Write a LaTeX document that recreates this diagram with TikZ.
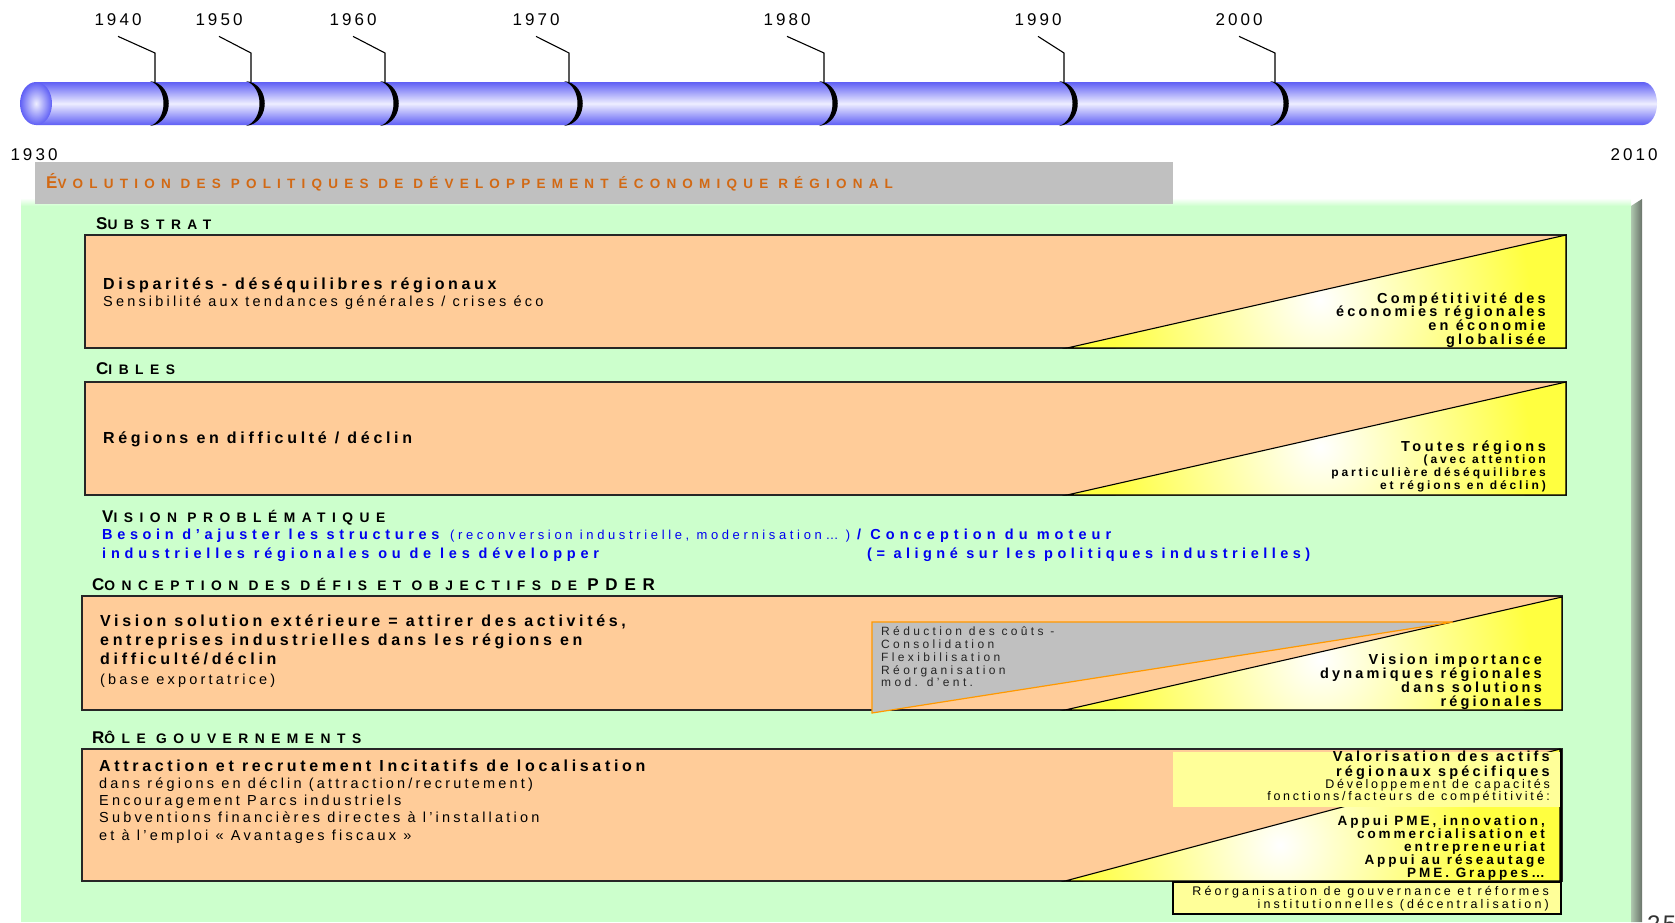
\documentclass[tikz,border=0pt]{standalone}
\usepackage{fontspec}
\setmainfont{Liberation Sans}[LetterSpace=25]

\definecolor{boxfill}{RGB}{255,204,153}
\definecolor{panelgreen}{RGB}{204,255,204}
\definecolor{bannergray}{RGB}{192,192,192}
\definecolor{bannerorange}{RGB}{210,105,20}
\definecolor{tubeblue}{RGB}{95,95,245}
\definecolor{tubewhite}{RGB}{238,238,255}
\definecolor{triyellow}{RGB}{255,255,64}
\definecolor{paleyellow}{RGB}{255,255,153}
\definecolor{visionblue}{RGB}{0,0,240}
\definecolor{grayedge}{RGB}{255,153,0}
\definecolor{shadelight}{RGB}{175,200,175}
\definecolor{shadedark}{RGB}{105,115,105}

\newcommand\fs[2]{\fontsize{#2}{#2}\selectfont\addfontfeatures{LetterSpace=#1}}
\newcommand\hcap[1]{{\fontsize{17}{17}\selectfont\addfontfeatures{LetterSpace=40}#1}}
\newcommand\yeartick[1]{\fill (#1-5,81) .. controls (#1+20,84) and (#1+20,123) .. (#1-5,126)
  .. controls (#1+13,120) and (#1+13,87) .. cycle;}

\tikzset{
  panel/.style={draw=black!85, line width=1.4pt, fill=boxfill},
  tri/.style={draw=black, line width=1.1pt},
  hdr/.style={anchor=base west, inner sep=0pt, font=\bfseries\fs{47}{13.8}},
  lft/.style={anchor=base west, inner sep=0pt},
  rgt/.style={anchor=base east, inner sep=0pt},
  bodyb/.style={lft, font=\bfseries\fs{23}{16}},
  bodyr/.style={lft, font=\fs{22}{14.5}},
  blueb/.style={lft, font=\bfseries\fs{32}{14.5}, text=visionblue},
  grytxt/.style={lft, font=\fs{28}{12}, text=black!85},
  trib/.style={rgt, font=\bfseries\fs{22}{14.5}},
  yearlbl/.style={anchor=base, inner sep=0pt, font=\fs{18}{17}},
  leader/.style={line width=1.1pt},
}

\begin{document}
\begin{tikzpicture}[x=1pt, y=-1pt]
\useasboundingbox (0,0) rectangle (1675,922);

%%% time line
\shade[top color=tubeblue, bottom color=tubeblue, middle color=tubewhite]
  (36,82) -- (1643,82) arc[start angle=-90, end angle=90, x radius=14, y radius=21.5] -- (36,125) -- cycle;
\shade[inner color=tubewhite, outer color=tubeblue] (36,103.5) ellipse [x radius=16, y radius=21.5];

\node[yearlbl] (y1930) at (34,160) {1930};
\node[yearlbl] (y2010) at (1634,160) {2010};

\node[yearlbl] (y1940) at (118,25) {1940};
\coordinate (k1940) at (155,82);
\draw[leader] (y1940.south) ++(0,11) -- (155,53) -- (k1940);
\yeartick{155}

\node[yearlbl] (y1950) at (219,25) {1950};
\coordinate (k1950) at (251,82);
\draw[leader] (y1950.south) ++(0,11) -- (251,53) -- (k1950);
\yeartick{251}

\node[yearlbl] (y1960) at (353,25) {1960};
\coordinate (k1960) at (385,82);
\draw[leader] (y1960.south) ++(0,11) -- (385,53) -- (k1960);
\yeartick{385}

\node[yearlbl] (y1970) at (536,25) {1970};
\coordinate (k1970) at (569,82);
\draw[leader] (y1970.south) ++(0,11) -- (569,53) -- (k1970);
\yeartick{569}

\node[yearlbl] (y1980) at (787,25) {1980};
\coordinate (k1980) at (824,82);
\draw[leader] (y1980.south) ++(0,11) -- (824,53) -- (k1980);
\yeartick{824}

\node[yearlbl] (y1990) at (1038,25) {1990};
\coordinate (k1990) at (1064,82);
\draw[leader] (y1990.south) ++(0,11) -- (1064,53) -- (k1990);
\yeartick{1064}

\node[yearlbl] (y2000) at (1239,25) {2000};
\coordinate (k2000) at (1275,82);
\draw[leader] (y2000.south) ++(0,11) -- (1275,53) -- (k2000);
\yeartick{1275}

%%% green panel
\fill[panelgreen] (21,205) rectangle (1631,922);
\shade[top color=white, bottom color=panelgreen] (21,198) rectangle (1631,206);
\shade[left color=shadelight, right color=shadedark] (1631,206) -- (1642,199) -- (1642,922) -- (1631,922) -- cycle;

%%% title banner
\fill[bannergray] (35,162) rectangle (1173,204);
\node[hdr, font=\bfseries\fs{46}{13.5}, text=bannerorange] (banner) at (46,188)
  {\hcap{É}VOLUTION DES POLITIQUES DE DÉVELOPPEMENT ÉCONOMIQUE RÉGIONAL};

%%% substrat
\node[hdr] (hsub) at (96,229) {\hcap{S}UBSTRAT};
\draw[panel] (85,235) rectangle (1566,348);
\begin{scope}
  \clip (1067,348) -- (1566,235) -- (1566,348) -- cycle;
  \fill[triyellow] (1067,348) -- (1566,235) -- (1566,348) -- cycle;
  \shade[inner color=white, outer color=triyellow] (1320,300) circle (210);
\end{scope}
\draw[tri] (1067,348) -- (1566,235) -- (1566,348) -- cycle;
\node[bodyb] (sub1) at (103,289) {Disparités - déséquilibres régionaux};
\node[bodyr] (sub2) at (103,306) {Sensibilité aux tendances générales / crises éco};
\node[trib] (subr1) at (1546,303) {Compétitivité des};
\node[trib] (subr2) at (1546,316) {économies régionales};
\node[trib] (subr3) at (1546,330) {en économie};
\node[trib] (subr4) at (1546,344) {globalisée};

%%% cibles
\node[hdr] (hcib) at (96,374) {\hcap{C}IBLES};
\draw[panel] (85,382) rectangle (1566,495);
\begin{scope}
  \clip (1067,495) -- (1566,382) -- (1566,495) -- cycle;
  \fill[triyellow] (1067,495) -- (1566,382) -- (1566,495) -- cycle;
  \shade[inner color=white, outer color=triyellow] (1320,447) circle (210);
\end{scope}
\draw[tri] (1067,495) -- (1566,382) -- (1566,495) -- cycle;
\node[bodyb] (cib1) at (103,443) {Régions en difficulté / déclin};
\node[rgt, font=\bfseries\fs{24}{14.5}] (cibr1) at (1546,451) {Toutes régions};
\node[rgt, font=\bfseries\fs{24}{12}] (cibr2) at (1546,463) {(avec attention};
\node[rgt, font=\bfseries\fs{24}{12}] (cibr3) at (1546,476) {particulière déséquilibres};
\node[rgt, font=\bfseries\fs{24}{12}] (cibr4) at (1546,489) {et régions en déclin)};

%%% vision problematique
\node[hdr] (hvis) at (102,522) {\hcap{V}ISION PROBLÉMATIQUE};
\node[blueb] (vis1) at (102,539) {Besoin d’ajuster les structures};
\node[lft, font=\fs{28}{13}, text=visionblue] (vis2) at (450,539) {(reconversion industrielle, modernisation… )};
\node[blueb, font=\bfseries\fs{35}{14.5}] (vis3) at (857,539) {/ Conception du moteur};
\node[blueb, font=\bfseries\fs{33}{14.5}] (vis4) at (102,558) {industrielles régionales ou de les développer};
\node[blueb, font=\bfseries\fs{31}{14.5}] (vis5) at (867,558) {(= aligné sur les politiques industrielles)};

%%% conception
\node[hdr] (hcon) at (92,590) {\hcap{C}ONCEPTION DES DÉFIS ET OBJECTIFS DE \hcap{PDER}};
\draw[panel] (82,596) rectangle (1562,710);
\begin{scope}
  \clip (1065,710) -- (1562,597) -- (1562,710) -- cycle;
  \fill[triyellow] (1065,710) -- (1562,597) -- (1562,710) -- cycle;
  \shade[inner color=white, outer color=triyellow] (1320,660) circle (210);
\end{scope}
\draw[tri] (1065,710) -- (1562,597) -- (1562,710) -- cycle;
\filldraw[fill=bannergray, draw=grayedge, line width=1.2pt] (872,622) -- (1453,622) -- (872,713) -- cycle;
\node[bodyb] (con1) at (100,626) {Vision solution extérieure = attirer des activités,};
\node[bodyb] (con2) at (100,645) {entreprises industrielles dans les régions en};
\node[bodyb] (con3) at (100,664) {difficulté/déclin};
\node[bodyr] (con4) at (100,684) {(base exportatrice)};
\node[grytxt] (gry1) at (881,635) {Réduction des coûts -};
\node[grytxt] (gry2) at (881,648) {Consolidation};
\node[grytxt] (gry3) at (881,661) {Flexibilisation};
\node[grytxt] (gry4) at (881,674) {Réorganisation};
\node[grytxt] (gry5) at (881,686) {mod. d'ent.};
\node[trib] (conr1) at (1542,664) {Vision importance};
\node[trib] (conr2) at (1542,678) {dynamiques régionales};
\node[trib] (conr3) at (1542,692) {dans solutions};
\node[trib] (conr4) at (1542,706) {régionales};

%%% role gouvernements
\node[hdr] (hrol) at (92,743) {\hcap{R}ÔLE GOUVERNEMENTS};
\draw[panel] (82,749) rectangle (1562,881);
\begin{scope}
  \clip (1065,881) -- (1560,749) -- (1560,881) -- cycle;
  \fill[triyellow] (1065,881) -- (1560,749) -- (1560,881) -- cycle;
  \shade[inner color=white, outer color=triyellow] (1280,845) circle (200);
\end{scope}
\draw[tri] (1065,881) -- (1560,749) -- (1560,881) -- cycle;
\fill[paleyellow] (1173,752) rectangle (1560,807);
\draw[black, line width=1.4pt] (1561,749) -- (1561,881);
\filldraw[fill=paleyellow, draw=black, line width=1.3pt] (1173,882) rectangle (1561,914);
\node[bodyb] (rol1) at (99,771) {Attraction et recrutement Incitatifs de localisation};
\node[bodyr] (rol2) at (99,788) {dans régions en déclin (attraction/recrutement)};
\node[bodyr] (rol3) at (99,805) {Encouragement Parcs industriels};
\node[bodyr] (rol4) at (99,822) {Subventions financières directes à l’installation};
\node[bodyr] (rol5) at (99,840) {et à l’emploi « Avantages fiscaux »};
\node[trib] (rolv1) at (1550,761) {Valorisation des actifs};
\node[trib] (rolv2) at (1550,776) {régionaux spécifiques};
\node[rgt, font=\fs{22}{12.5}] (rolv3) at (1550,788) {Développement de capacités};
\node[rgt, font=\fs{22}{12.5}] (rolv4) at (1550,800) {fonctions/facteurs de compétitivité:};
\node[rgt, font=\bfseries\fs{22}{13.5}] (rolt1) at (1545,825) {Appui PME, innovation,};
\node[rgt, font=\bfseries\fs{22}{13.5}] (rolt2) at (1545,838) {commercialisation et};
\node[rgt, font=\bfseries\fs{22}{13.5}] (rolt3) at (1545,851) {entrepreneuriat};
\node[rgt, font=\bfseries\fs{22}{13.5}] (rolt4) at (1545,864) {Appui au réseautage};
\node[rgt, font=\bfseries\fs{22}{13.5}] (rolt5) at (1545,877) {PME. Grappes…};
\node[rgt, font=\fs{25}{12.5}] (rolb1) at (1549,895) {Réorganisation de gouvernance et réformes};
\node[rgt, font=\fs{25}{12.5}] (rolb2) at (1549,908) {institutionnelles (décentralisation)};

\node[anchor=north west, inner sep=0pt, font=\fs{10}{24}, text=black!80] (pnum) at (1647,916) {25};

\end{tikzpicture}
\end{document}
